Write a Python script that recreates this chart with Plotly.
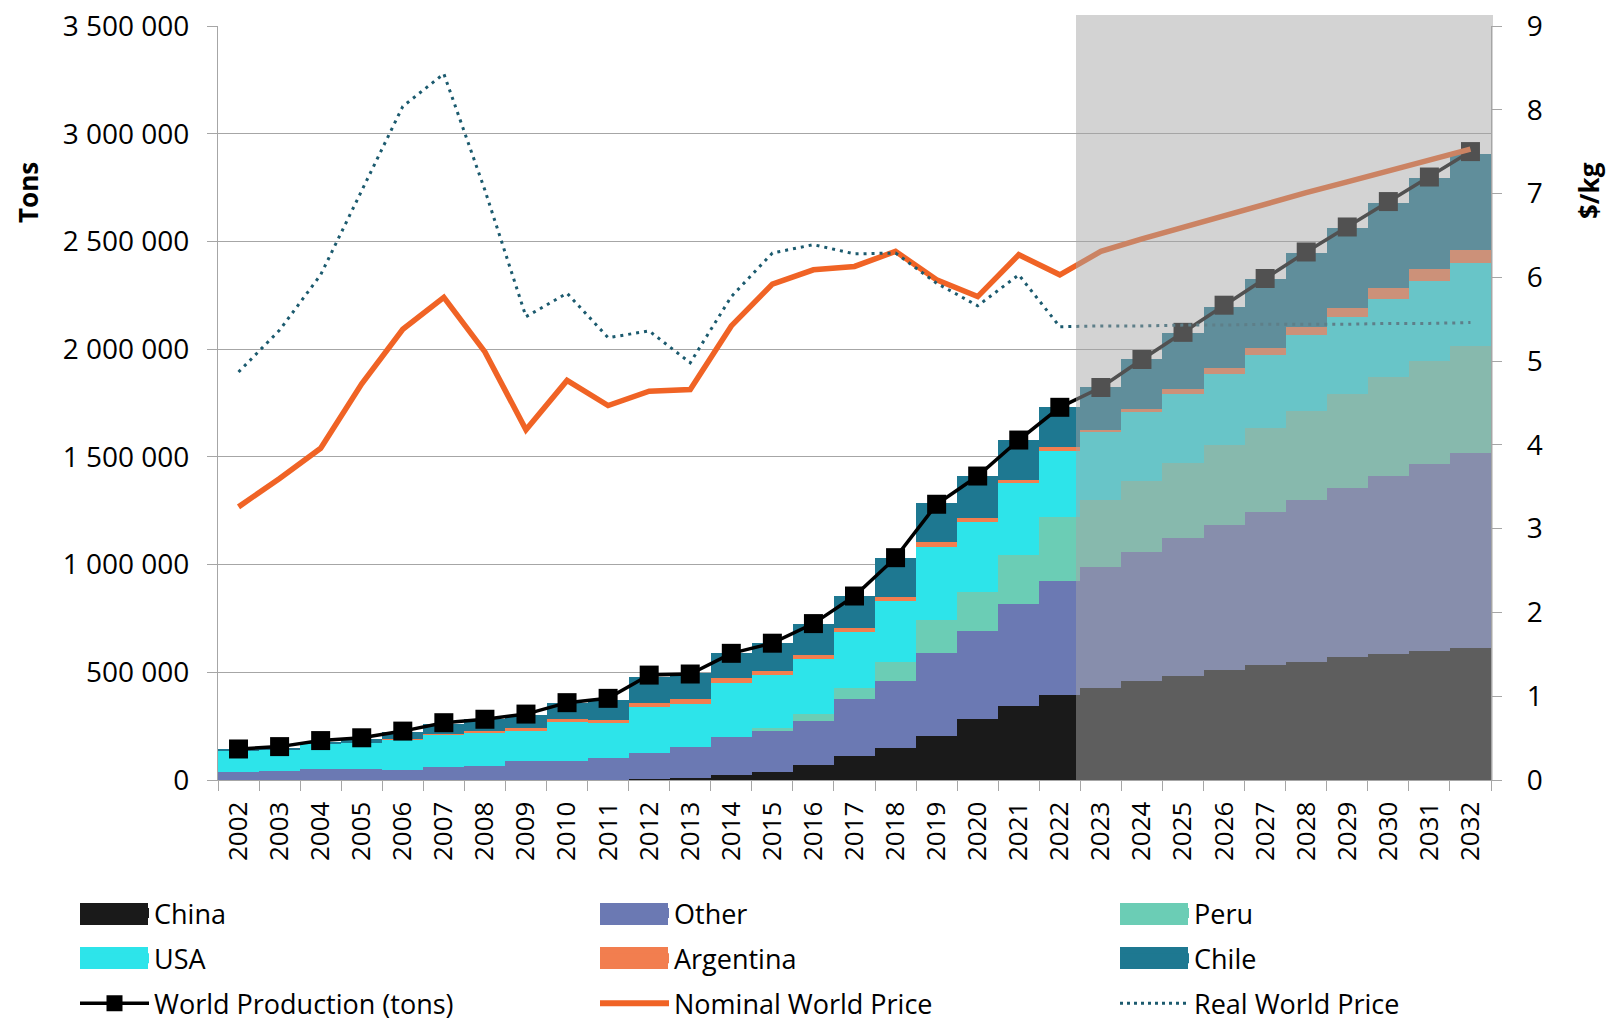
import plotly.graph_objects as go

FONT = "Open Sans"

years = ["2002", "2003", "2004", "2005", "2006", "2007", "2008", "2009", "2010", "2011",
         "2012", "2013", "2014", "2015", "2016", "2017", "2018", "2019", "2020", "2021",
         "2022", "2023", "2024", "2025", "2026", "2027", "2028", "2029", "2030", "2031", "2032"]

china = [0, 0, 0, 0, 0, 0, 0, 0, 0, 0,
         5000, 11000, 22000, 39000, 70000, 113000, 147000, 206000, 282000, 345000,
         396000, 427000, 458000, 481000, 509000, 532000, 550000, 569000, 587000, 601000, 614000]
other = [39000, 44000, 53000, 51000, 47000, 62000, 66000, 89000, 90000, 104000,
         120000, 144000, 178000, 193000, 205000, 262000, 314000, 385000, 411000, 470000,
         529000, 564000, 600000, 641000, 674000, 713000, 752000, 788000, 824000, 867000, 905000]
peru = [0, 0, 0, 0, 0, 0, 0, 0, 0, 0,
        0, 0, 0, 8000, 30000, 51000, 85000, 150000, 181000, 231000,
        294000, 307000, 330000, 348000, 373000, 391000, 412000, 435000, 458000, 475000, 496000]
usa = [96000, 95000, 117000, 122000, 143000, 147000, 154000, 138000, 181000, 161000,
       215000, 198000, 252000, 247000, 258000, 261000, 285000, 339000, 325000, 331000,
       310000, 316000, 318000, 324000, 330000, 336000, 350000, 358000, 363000, 375000, 387000]
argentina = [0, 0, 0, 0, 2000, 6000, 7000, 13000, 12000, 12000,
             17000, 22000, 20000, 19000, 19000, 19000, 20000, 23000, 19000, 17000,
             18000, 12000, 14000, 20000, 26000, 33000, 37000, 43000, 51000, 54000, 58000]
chile = [9000, 10000, 8000, 17000, 31000, 43000, 55000, 62000, 76000, 94000,
         120000, 120000, 119000, 129000, 141000, 148000, 181000, 181000, 193000, 184000,
         183000, 196000, 232000, 260000, 285000, 319000, 344000, 369000, 396000, 421000, 446000]
world_production = [144000, 155000, 183000, 196000, 227000, 266000, 282000, 306000, 359000, 379000,
                    487000, 492000, 588000, 635000, 726000, 854000, 1032000, 1280000, 1411000, 1578000,
                    1730000, 1822000, 1952000, 2078000, 2204000, 2328000, 2451000, 2567000, 2685000, 2799000, 2917000]
nominal_price = [3.26, 3.60, 3.96, 4.73, 5.38, 5.76, 5.11, 4.18, 4.77, 4.47,
                 4.64, 4.66, 5.42, 5.92, 6.09, 6.13, 6.31, 5.97, 5.77, 6.27,
                 6.03, 6.31, 6.46, 6.60, 6.73, 6.87, 7.01, 7.14, 7.27, 7.40, 7.53]
real_price = [4.87, 5.37, 6.03, 7.03, 8.04, 8.43, 7.04, 5.53, 5.81, 5.28,
              5.36, 4.98, 5.77, 6.29, 6.39, 6.28, 6.29, 5.93, 5.66, 6.03,
              5.41, 5.42, 5.42, 5.43, 5.43, 5.44, 5.44, 5.44, 5.45, 5.45, 5.46]

colors = {
    "China": "#1a1a1a", "Other": "#6b79b3", "Peru": "#6bcdb5",
    "USA": "#2de4ea", "Argentina": "#f27e4f", "Chile": "#1e7891",
    "World": "#000000", "Nominal": "#f06325", "Real": "#1b5a6e",
}

bar_series = [("China", china), ("Other", other), ("Peru", peru),
              ("USA", usa), ("Argentina", argentina), ("Chile", chile)]

fig = go.Figure()

for name, vals in bar_series:
    fig.add_trace(go.Bar(x=years, y=vals, name=name,
                         marker=dict(color=colors[name], line=dict(width=0)),
                         showlegend=False, yaxis="y"))

fig.add_trace(go.Scatter(x=years, y=world_production, name="World Production (tons)", mode="lines+markers",
                         line=dict(color=colors["World"], width=3.5),
                         marker=dict(symbol="square", size=19, color=colors["World"]),
                         yaxis="y", showlegend=False))
fig.add_trace(go.Scatter(x=years, y=nominal_price, name="Nominal World Price", mode="lines",
                         line=dict(color=colors["Nominal"], width=5.5), yaxis="y2", showlegend=False))
fig.add_trace(go.Scatter(x=years, y=real_price, name="Real World Price", mode="lines",
                         line=dict(color=colors["Real"], width=3, dash="3px,5px"), yaxis="y2",
                         showlegend=False))

# legend: three columns, filled row by row like the original
legend_items = [
    ("China", "legend", 0, 0, dict(mode="lines", line=dict(color=colors["China"], width=10))),
    ("USA", "legend", 0, 1, dict(mode="lines", line=dict(color=colors["USA"], width=10))),
    ("World Production (tons)", "legend", 0, 2,
     dict(mode="lines+markers", line=dict(color=colors["World"], width=3.5),
          marker=dict(symbol="square", size=16, color=colors["World"]))),
    ("Other", "legend2", 1, 0, dict(mode="lines", line=dict(color=colors["Other"], width=10))),
    ("Argentina", "legend2", 1, 1, dict(mode="lines", line=dict(color=colors["Argentina"], width=10))),
    ("Nominal World Price", "legend2", 1, 2, dict(mode="lines", line=dict(color=colors["Nominal"], width=6))),
    ("Peru", "legend3", 2, 0, dict(mode="lines", line=dict(color=colors["Peru"], width=10))),
    ("Chile", "legend3", 2, 1, dict(mode="lines", line=dict(color=colors["Chile"], width=10))),
    ("Real World Price", "legend3", 2, 2,
     dict(mode="lines", line=dict(color=colors["Real"], width=3, dash="3px,4px"))),
]
for name, lg, col, row, style in legend_items:
    fig.add_trace(go.Scatter(x=[None], y=[None], name=name, legend=lg, legendgroup=name,
                             showlegend=True, hoverinfo="skip", **style))

# plot area geometry in page pixels (used to place paper-referenced decorations)
PX_L, PX_R, PX_T, PX_B = 218, 1491, 26, 780
def px_x(px):
    return (px - PX_L) / (PX_R - PX_L)
def px_y(py):
    return (PX_B - py) / (PX_B - PX_T)

# wide swatches for the bar entries of the legend
col_left = [80, 600, 1120]
row_center = [914, 958]
swatch_shapes = []
for name, lg, col, row, style in legend_items:
    if row < 2:
        x0 = col_left[col]
        yc = row_center[row]
        swatch_shapes.append(dict(type="rect", xref="paper", yref="paper",
                                  x0=px_x(x0), x1=px_x(x0 + 68), y0=px_y(yc + 11), y1=px_y(yc - 11),
                                  fillcolor=style["line"]["color"], line=dict(width=0), layer="above"))

axis_gray = "#a6a6a6"
legend_base = dict(orientation="v", bgcolor="rgba(0,0,0,0)", borderwidth=0,
                   font=dict(family=FONT, size=27, color="black"), itemwidth=69,
                   tracegroupgap=7, traceorder="grouped", xanchor="left", yanchor="top",
                   y=px_y(889))

tick_font = dict(family=FONT, size=28, color="black")

fig.update_layout(
    template="none",
    width=1609, height=1021,
    margin=dict(l=PX_L, r=1609 - PX_R, t=PX_T, b=1021 - PX_B, autoexpand=False),
    paper_bgcolor="white", plot_bgcolor="white",
    font=dict(family=FONT, size=25, color="black"),
    separators=". ",
    barmode="stack", bargap=0,
    xaxis=dict(type="category", tickangle=-90, ticks="outside", tickson="boundaries",
               ticklen=10, tickcolor=axis_gray, tickwidth=1.3, showline=True, linecolor=axis_gray,
               linewidth=1.3, showgrid=False, range=[-0.5, 30.5], automargin=False,
               ticklabelstandoff=10, tickfont=dict(family=FONT, size=26, color="black")),
    yaxis=dict(range=[0, 3500000], dtick=500000, tickformat=",d", showgrid=True, gridcolor=axis_gray,
               gridwidth=1.3, showline=True, linecolor=axis_gray, linewidth=1.3, ticks="outside",
               ticklen=10, tickcolor=axis_gray, tickwidth=1.3, zeroline=False, automargin=False,
               ticklabelstandoff=12, ticklabeloverflow="allow", tickfont=tick_font),
    yaxis2=dict(range=[0, 9], dtick=1, overlaying="y", side="right", showgrid=False, showline=True,
                linecolor=axis_gray, linewidth=1.3, ticks="outside", ticklen=10, tickcolor=axis_gray,
                tickwidth=1.3, zeroline=False, automargin=False, ticklabelstandoff=19,
                ticklabeloverflow="allow", tickfont=tick_font),
    legend=dict(legend_base, x=px_x(75)),
    legend2=dict(legend_base, x=px_x(595)),
    legend3=dict(legend_base, x=px_x(1115)),
    shapes=[dict(type="rect", xref="paper", yref="paper", x0=px_x(1076), x1=px_x(1493),
                 y0=0, y1=px_y(15), fillcolor="rgba(165,165,165,0.49)", line=dict(width=0),
                 layer="above")] + swatch_shapes,
    annotations=[
        dict(text="<b>Tons</b>", xref="paper", yref="paper", x=px_x(28), y=px_y(193), textangle=-90,
             showarrow=False, xanchor="center", yanchor="middle", font=dict(family=FONT, size=26)),
        dict(text="<b>$/kg</b>", xref="paper", yref="paper", x=px_x(1589), y=px_y(191), textangle=-90,
             showarrow=False, xanchor="center", yanchor="middle", font=dict(family=FONT, size=26)),
    ],
)

# remove the browser's default 8px body margin so the figure sits at the page origin
fig.write_html("out.html", config={"displayModeBar": False},
               post_script="document.body.style.margin='0px';")
